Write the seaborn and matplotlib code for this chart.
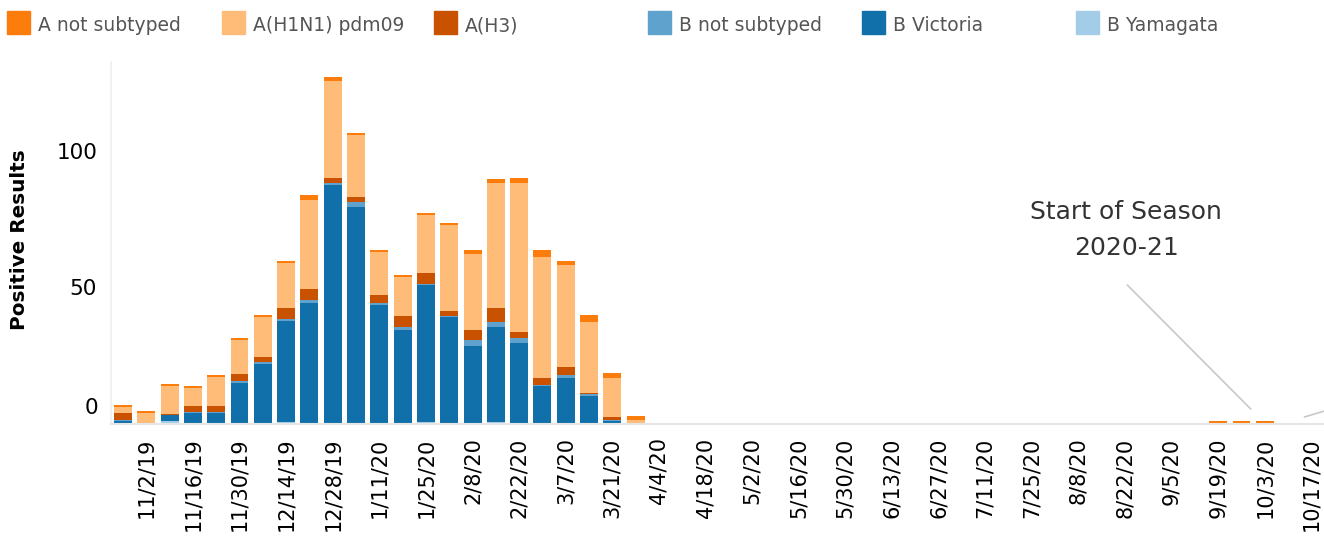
import pandas as pd
import numpy as np
import matplotlib.pyplot as plt
import seaborn as sns
from matplotlib.patches import Rectangle

# semanas (sabado) desde 10/26/19 hasta 10/17/20
semanas = pd.date_range('2019-10-26', periods=52, freq='7D')

# valores (resultados positivos por semana)
a_no_subtipo = [0.75, 0.75, 0.75, 0.75, 0.75, 0.75, 0.75, 0.75, 1.8, 1.6, 0.75, 0.75, 0.75,
                0.75, 0.75, 1.5, 1.5, 1.8, 2.6, 1.5, 2.6, 1.8, 1.5,
                0, 0, 0, 0, 0, 0, 0, 0, 0, 0, 0, 0, 0, 0, 0, 0, 0, 0, 0, 0, 0, 0, 0, 0,
                0.75, 0.75, 0.75, 0, 0]
a_h1n1 = [2.2, 3.8, 10.3, 6.6, 10.7, 12.5, 14.7, 16.5, 33.0, 35.7, 22.8, 15.8, 14.3,
          21.3, 31.6, 27.9, 46.0, 54.8, 44.5, 37.5, 26.0, 14.3, 1.2,
          0, 0, 0, 0, 0, 0, 0, 0, 0, 0, 0, 0, 0, 0, 0, 0, 0, 0, 0, 0, 0, 0, 0, 0,
          0, 0, 0, 0, 0]
a_h3 = [2.6, 0, 0.4, 2.2, 2.2, 2.6, 1.8, 4.0, 4.0, 1.8, 1.8, 2.9, 4.0,
        4.0, 1.8, 3.7, 5.1, 2.2, 2.6, 2.9, 0.4, 1.1, 0,
        0, 0, 0, 0, 0, 0, 0, 0, 0, 0, 0, 0, 0, 0, 0, 0, 0, 0, 0, 0, 0, 0, 0, 0,
        0, 0, 0, 0, 0]
b_no_subtipo = [0.4, 0, 0, 0.4, 0.4, 0.75, 0.75, 0.75, 1.1, 0.75, 1.8, 0.75, 1.1,
                0.4, 0.4, 2.2, 1.8, 1.8, 0.4, 1.1, 0.75, 0.4, 0,
                0, 0, 0, 0, 0, 0, 0, 0, 0, 0, 0, 0, 0, 0, 0, 0, 0, 0, 0, 0, 0, 0, 0, 0,
                0, 0, 0, 0, 0]
b_victoria = [0.9, 0, 2.2, 3.8, 3.8, 14.6, 21.8, 37.0, 44.2, 87.6, 79.5, 43.5, 34.3,
              50.2, 39.1, 28.4, 34.8, 29.5, 13.7, 16.7, 10.0, 0.9, 0,
              0, 0, 0, 0, 0, 0, 0, 0, 0, 0, 0, 0, 0, 0, 0, 0, 0, 0, 0, 0, 0, 0, 0, 0,
              0, 0, 0, 0, 0]
b_yamagata = [0, 0, 0.9, 0, 0, 0.25, 0, 0.6, 0, 0, 0, 0, 0,
              0.6, 0, 0, 0.6, 0, 0, 0, 0, 0, 0,
              0, 0, 0, 0, 0, 0, 0, 0, 0, 0, 0, 0, 0, 0, 0, 0, 0, 0, 0, 0, 0, 0, 0, 0,
              0, 0, 0, 0, 0]

# nombres de las series (orden de la leyenda, el primero queda arriba)
tipos = ['A not subtyped', 'A(H1N1) pdm09', 'A(H3)',
         'B not subtyped', 'B Victoria', 'B Yamagata']
colores = ['#fc7d0b', '#ffbc79', '#c85200', '#5fa2ce', '#1170aa', '#a3cce9']
series = [a_no_subtipo, a_h1n1, a_h3, b_no_subtipo, b_victoria, b_yamagata]

# etiquetas del eje x cada dos semanas
etiquetas = [f"{d.month}/{d.day}/{d.year % 100}" for d in semanas]

# se arma el dataframe largo
filas = []
for tipo, valores in zip(tipos, series):
    for i, v in enumerate(valores):
        filas.append({'semana': i, 'tipo': tipo, 'valor': v})
df = pd.DataFrame(filas)

sns.set_theme(style='white')
plt.rcParams['font.family'] = ['DejaVu Sans']

fig = plt.figure(figsize=(13.24, 5.39), dpi=100)
ax = fig.add_axes([111 / 1324, (539 - 423.5) / 539, 1 - 111 / 1324, (423.5 - 62) / 539])

sns.histplot(data=df, x='semana', weights='valor', hue='tipo', hue_order=tipos,
             palette=colores, multiple='stack', discrete=True, shrink=0.77,
             alpha=1, linewidth=0, legend=False, ax=ax)

ax.set_xlim(-0.515, 51.54)
ax.set_ylim(0, 132.9)

# ticks del eje x
pos = list(range(1, 52, 2))
ax.set_xticks(pos)
ax.set_xticklabels([etiquetas[p] for p in pos], rotation=90, fontsize=15, color='black')
ax.set_yticks([0, 50, 100])
ax.set_yticklabels(['', '50', '100'], fontsize=15.5, color='black')
ax.tick_params(axis='both', which='both', length=6, width=1, color='#e6e6e6', pad=4)
ax.tick_params(axis='x', pad=6, length=4)
# el cero va un poco arriba de la linea base
ax.annotate('0', xy=(0, 0), xycoords=('axes fraction', 'data'), xytext=(-9, 4),
            textcoords='offset points', ha='right', va='bottom', fontsize=15.5, color='black')
ax.set_xlabel('')
ax.set_ylabel('Positive Results', fontsize=14.4, fontweight='bold', color='black')
ax.yaxis.set_label_coords((29 - 111) / 1213, 0.51)

for lado in ['top', 'right']:
    ax.spines[lado].set_visible(False)
ax.spines['left'].set_color('#f0f0f0')
ax.spines['bottom'].set_color('#e6e6e6')
ax.spines['bottom'].set_linewidth(1.5)

# anotacion
ax.text(43.05, 75.2, 'Start of Season', ha='center', va='baseline',
        fontsize=18, color='#333333')
ax.text(43.05, 61.9, '2020-21', ha='center', va='baseline',
        fontsize=18, color='#333333')
ax.plot([43.1, 48.4], [50.9, 5.3], color='#c8c8c8', lw=1.2)
ax.plot([50.7, 52.5], [2.4, 7.0], color='#c8c8c8', lw=1.2, clip_on=True)

# leyenda manual arriba
ley_x = [7, 222, 434, 648, 862, 1076]
for x0, tipo, color in zip(ley_x, tipos, colores):
    fig.patches.append(Rectangle((x0 / 1324, 1 - 34 / 539), 23 / 1324, 23 / 539,
                                 transform=fig.transFigure, color=color))
    fig.text((x0 + 31) / 1324, 1 - 31 / 539, tipo, ha='left', va='baseline',
             fontsize=13.5, color='#555555')

fig.savefig('out.png', dpi=100)
